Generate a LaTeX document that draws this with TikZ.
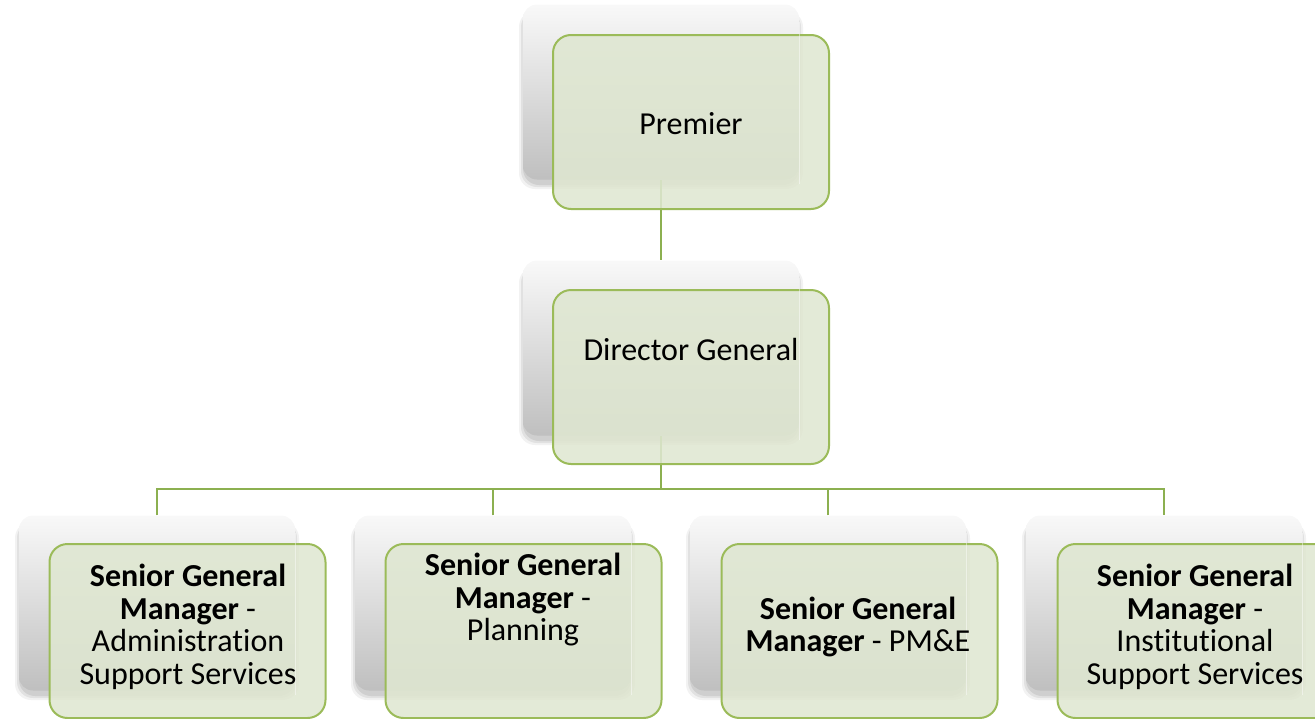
\documentclass[tikz,border=0pt]{standalone}
\usepackage{fontspec}
\setmainfont{Carlito}[Ligatures=NoCommon]
\begin{document}
\begin{tikzpicture}[x=1pt,y=-1pt,
  backbox/.style={rectangle, rounded corners=14pt, minimum width=276pt, minimum height=175pt,
    top color=gray!5, middle color=gray!12, bottom color=gray!50, draw=none},
  frontbox/.style={rectangle, rounded corners=18pt, minimum width=276pt, minimum height=174pt,
    fill=boxgreen, fill opacity=0.88, draw=boxedge, line width=2pt},
  txt/.style={font=\fontsize{32}{38}\selectfont, text=black, align=center},
  subtxt/.style={font=\fontsize{32}{32.5}\selectfont, text=black, align=center},
  link/.style={draw=linkgreen, line width=1.8pt}
]
\definecolor{boxgreen}{HTML}{DFE7D1}
\definecolor{boxedge}{HTML}{9BBB59}
\definecolor{linkgreen}{HTML}{8CB050}
\useasboundingbox (0,0) rectangle (1315,718);

% soft shadows under the grey back panels
\foreach \cx/\cy in {661/92, 661/348, 157/603, 493/603, 828/603, 1164/603}{
  \foreach \s/\o in {6/0.05, 4/0.07, 2/0.08}{
    \fill[black, opacity=\o, rounded corners=16pt]
      (\cx-138-\s+2, \cy-87+6) rectangle (\cx+138+\s-2, \cy+88+\s+3);
  }
}

% grey back panels
\node[backbox] (pb)  at (661,92)  {};
\node[backbox] (dgb) at (661,348) {};
\node[backbox] (b1)  at (157,603) {};
\node[backbox] (b2)  at (493,603) {};
\node[backbox] (b3)  at (828,603) {};
\node[backbox] (b4)  at (1164,603) {};

% reporting lines
\coordinate (bus) at (661,489);
\draw[link] (pb.south) -- (dgb.north);
\draw[link] (dgb.south) -- (bus);
\draw[link] (b1.north) |- (bus) -| (b4.north);
\draw[link] (b2.north) -- (b2.north |- bus);
\draw[link] (b3.north) -- (b3.north |- bus);

% green front panels
\node[frontbox] (p)  at (691,122)  {};
\node[frontbox] (dg) at (691,377)  {};
\node[frontbox] (f1) at (187.5,631) {};
\node[frontbox] (f2) at (523.5,631) {};
\node[frontbox] (f3) at (859.5,631) {};
\node[frontbox] (f4) at (1195.5,631) {};

% faint edge of the back panels seen through the front panels
\foreach \n in {pb,dgb,b1,b2,b3,b4}{
  \draw[white, opacity=0.45, line width=0.8pt] ([yshift=-18pt]\n.north east) -- ([yshift=-4pt]\n.south east);
}

% labels
\node[txt] (tp)  at (691,124) {Premier};
\node[txt] (tdg) at (691,350) {Director General};
\node[subtxt] (t1) at (188,627) {\textbf{Senior General}\\\textbf{Manager} -\\Administration\\Support Services};
\node[subtxt] (t2) at (523,600) {\textbf{Senior General}\\\textbf{Manager} -\\Planning};
\node[subtxt] (t3) at (858,627) {\textbf{Senior General}\\\textbf{Manager} - PM\&E};
\node[subtxt] (t4) at (1195,627) {\textbf{Senior General}\\\textbf{Manager} -\\Institutional\\Support Services};
\end{tikzpicture}
\end{document}
